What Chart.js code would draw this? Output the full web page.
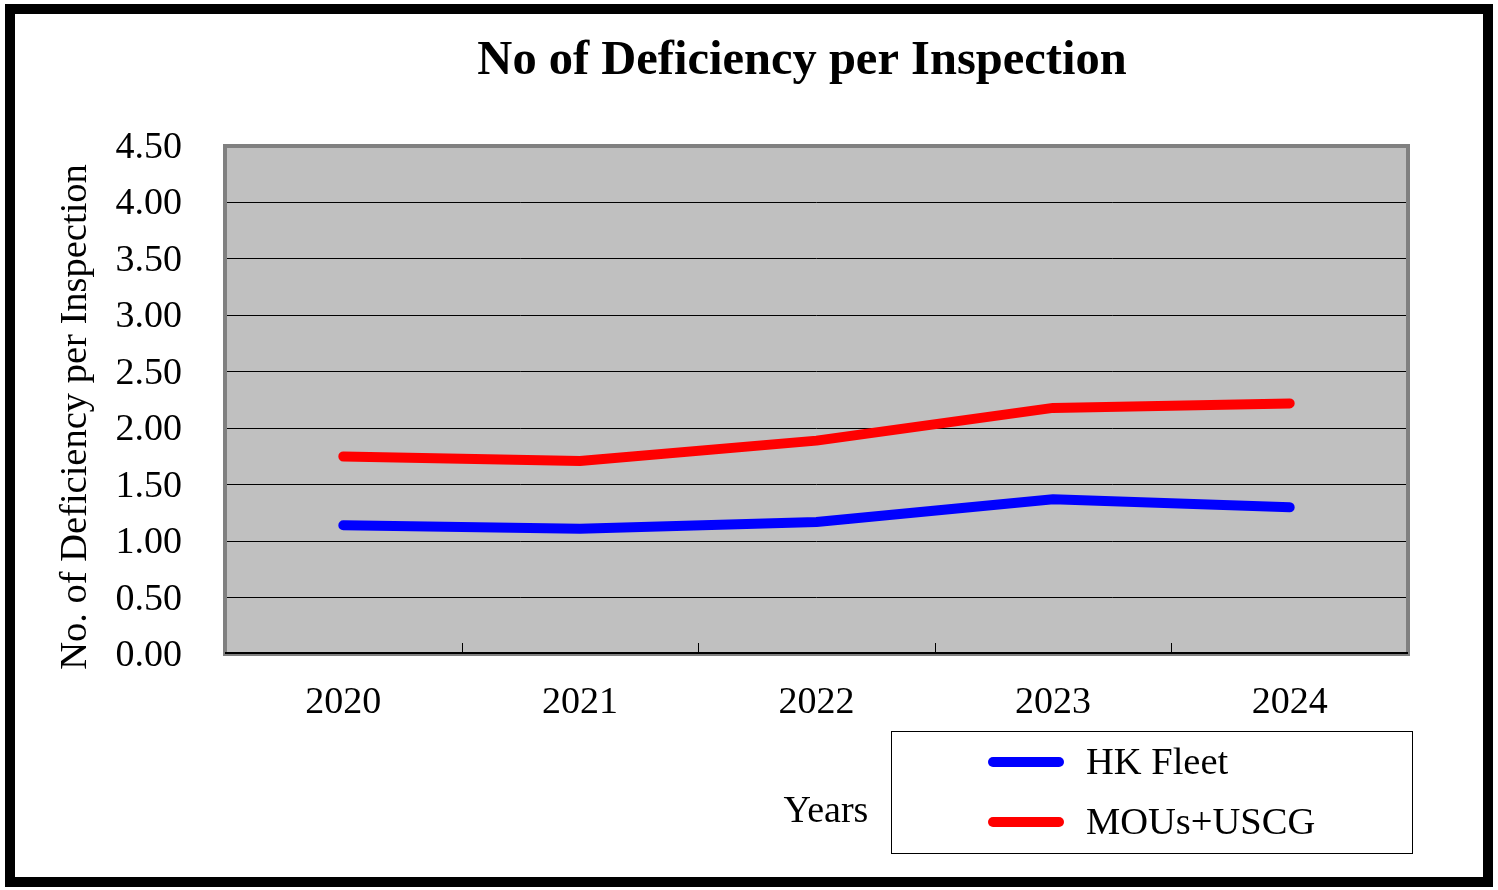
<!DOCTYPE html>
<html>
<head>
<meta charset="utf-8">
<script src="https://cdn.jsdelivr.net/npm/chart.js@4/dist/chart.umd.min.js"></script>
<style>
  html, body { margin: 0; padding: 0; background: #ffffff; }
  #wrap { width: 1498px; height: 890px; position: relative; }
</style>
</head>
<body>
<div id="wrap"><canvas id="c"></canvas></div>
<script>
const categories = ['2020', '2021', '2022', '2023', '2024'];
const hkFleet = [1.14, 1.11, 1.17, 1.37, 1.30];
const mousUscg = [1.75, 1.71, 1.89, 2.18, 2.22];
const yTickLabels = ['0.00', '0.50', '1.00', '1.50', '2.00', '2.50', '3.00', '3.50', '4.00', '4.50'];
const seriesNames = ['HK Fleet', 'MOUs+USCG'];
const chartTitle = 'No of Deficiency per Inspection';
const yAxisTitle = 'No. of Deficiency per Inspection';
const xAxisTitle = 'Years';

const SERIF = "'Liberation Serif', 'Times New Roman', 'DejaVu Serif', serif";

const decor = {
  id: 'decor',
  beforeDraw(chart) {
    const ctx = chart.ctx;
    const a = chart.chartArea;
    ctx.save();
    ctx.fillStyle = '#ffffff';
    ctx.fillRect(0, 0, chart.width, chart.height);
    ctx.fillStyle = '#c0c0c0';
    ctx.fillRect(a.left, a.top, a.right - a.left, a.bottom - a.top);
    ctx.restore();
  },
  beforeDatasetsDraw(chart) {
    const ctx = chart.ctx;
    const a = chart.chartArea;
    ctx.save();
    ctx.strokeStyle = '#808080';
    ctx.lineWidth = 4;
    ctx.strokeRect(a.left, a.top, a.right - a.left, a.bottom - a.top);
    ctx.strokeStyle = '#000000';
    ctx.lineWidth = 2;
    ctx.beginPath();
    ctx.moveTo(a.left, a.bottom - 1);
    ctx.lineTo(a.right, a.bottom - 1);
    ctx.stroke();
    // inward tick marks at category boundaries
    const xs = chart.scales.x;
    const half = (xs.getPixelForValue(1) - xs.getPixelForValue(0)) / 2;
    ctx.lineWidth = 1;
    for (let i = 1; i < categories.length; i++) {
      const px = Math.round(xs.getPixelForValue(i) - half) + 0.5;
      ctx.beginPath();
      ctx.moveTo(px, a.bottom - 1);
      ctx.lineTo(px, a.bottom - 11);
      ctx.stroke();
    }
    ctx.restore();
  },
  afterDraw(chart) {
    const ctx = chart.ctx;
    ctx.save();
    // outer frame
    ctx.strokeStyle = '#000000';
    ctx.lineWidth = 10;
    ctx.strokeRect(10, 9, 1478, 873);
    // title
    ctx.fillStyle = '#000000';
    ctx.font = 'bold 48.5px ' + SERIF;
    ctx.textAlign = 'center';
    ctx.textBaseline = 'alphabetic';
    ctx.fillText(chartTitle, 802, 74);
    // y axis title
    ctx.save();
    ctx.translate(86, 417);
    ctx.rotate(-Math.PI / 2);
    ctx.font = '38.5px ' + SERIF;
    ctx.textAlign = 'center';
    ctx.fillText(yAxisTitle, 0, 0);
    ctx.restore();
    // x axis title
    ctx.font = '38px ' + SERIF;
    ctx.textAlign = 'center';
    ctx.fillText(xAxisTitle, 826, 822);
    // legend
    ctx.fillStyle = '#ffffff';
    ctx.fillRect(891, 731, 522, 123);
    ctx.strokeStyle = '#000000';
    ctx.lineWidth = 1;
    ctx.strokeRect(891.5, 731.5, 521, 122);
    const rows = [762, 822];
    chart.data.datasets.forEach((ds, i) => {
      const y = rows[i];
      ctx.strokeStyle = ds.borderColor;
      ctx.lineWidth = 10;
      ctx.lineCap = 'round';
      ctx.beginPath();
      ctx.moveTo(993, y);
      ctx.lineTo(1059, y);
      ctx.stroke();
      ctx.fillStyle = '#000000';
      ctx.font = '38.5px ' + SERIF;
      ctx.textAlign = 'left';
      ctx.textBaseline = 'alphabetic';
      ctx.fillText(ds.label, 1086, y + 12);
    });
    ctx.restore();
  }
};

new Chart(document.getElementById('c'), {
  type: 'line',
  data: {
    labels: categories,
    datasets: [
      {
        label: seriesNames[0],
        data: hkFleet,
        borderColor: '#0000ff',
        backgroundColor: '#0000ff',
        borderWidth: 10,
        pointRadius: 0,
        pointHoverRadius: 0,
        tension: 0,
        borderCapStyle: 'round',
        borderJoinStyle: 'round',
        fill: false
      },
      {
        label: seriesNames[1],
        data: mousUscg,
        borderColor: '#ff0000',
        backgroundColor: '#ff0000',
        borderWidth: 10,
        pointRadius: 0,
        pointHoverRadius: 0,
        tension: 0,
        borderCapStyle: 'round',
        borderJoinStyle: 'round',
        fill: false
      }
    ]
  },
  options: {
    responsive: true,
    maintainAspectRatio: false,
    animation: false,
    devicePixelRatio: 1,
    layout: { padding: { left: 0, top: 146, right: 90, bottom: 0 } },
    plugins: {
      legend: { display: false },
      title: { display: false },
      tooltip: { enabled: false }
    },
    scales: {
      x: {
        type: 'category',
        offset: true,
        afterFit(scale) { scale.height = 236; },
        grid: { display: false, drawOnChartArea: false, drawTicks: false },
        border: { display: false },
        ticks: {
          color: '#000000',
          font: { family: SERIF, size: 38 },
          padding: 26,
          maxRotation: 0,
          autoSkip: false
        }
      },
      y: {
        min: 0,
        max: 4.5,
        afterFit(scale) { scale.width = 225; },
        grid: { color: '#000000', lineWidth: 1, drawTicks: false },
        border: { display: false },
        ticks: {
          stepSize: 0.5,
          color: '#000000',
          font: { family: SERIF, size: 38 },
          padding: 43,
          labelOffset: 2,
          callback(value, index) { return yTickLabels[index]; }
        }
      }
    }
  },
  plugins: [decor]
});
</script>
</body>
</html>
